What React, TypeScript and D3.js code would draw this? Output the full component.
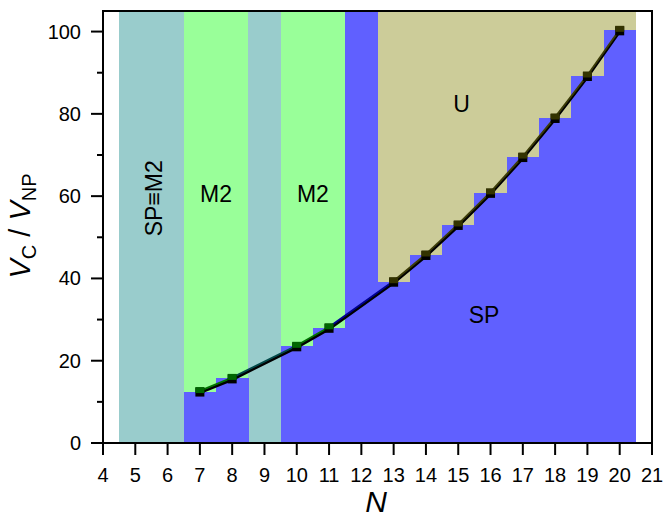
import React from "react";
import * as d3 from "d3";

// Critical voltage ratio V_C / V_NP versus cluster size N
const nValues = [7, 8, 10, 11, 13, 14, 15, 16, 17, 18, 19, 20];
const vcValues = [12.5, 15.7, 23.5, 28.0, 39.2, 45.7, 53.0, 60.8, 69.5, 79.0, 89.2, 100.3];

// Phase bands along N (background colour above the SP steps)
const bandStart = [4.5, 6.5, 8.5, 9.5, 11.5, 12.5];
const bandEnd = [6.5, 8.5, 9.5, 11.5, 12.5, 20.5];
const bandPhase = ["SPM2", "M2", "SPM2", "M2", "SP", "U"];

const xTicks = d3.range(4, 22);
const yMajorTicks = [0, 20, 40, 60, 80, 100];
const yMinorTicks = [10, 30, 50, 70, 90];

const phaseColor: Record<string, string> = {
  SPM2: "#99cccc",
  M2: "#99ff99",
  SP: "#6060ff",
  U: "#cccc99",
};
const lineColor: Record<string, string> = {
  M2: "#007000",
  SPM2: "#004848",
  SP: "#000090",
  U: "#3c3c08",
};

const W = 663;
const H = 517;
const m = { left: 103, right: 652, top: 11, bottom: 443 };

export default function App() {
  const x = d3.scaleLinear().domain([4, 21]).range([m.left, m.right]);
  const y = d3.scaleLinear().domain([0, 105]).range([m.bottom, m.top]);

  const phaseAt = (n: number) => {
    const i = bandStart.findIndex((s, k) => n >= s && n < bandEnd[k]);
    return i >= 0 ? bandPhase[i] : "SP";
  };

  const pts = nValues.map((n, i) => ({ n, v: vcValues[i] }));
  const line = d3
    .line<{ n: number; v: number }>()
    .x((d) => x(d.n))
    .y((d) => y(d.v));

  const font = "'Liberation Sans', Arial, sans-serif";

  return (
    <svg
      width={W}
      height={H}
      style={{ position: "absolute", left: 0, top: 0, background: "#fff" }}
      fontFamily={font}
    >
      {/* phase background bands */}
      <g shapeRendering="crispEdges">
        {bandStart.map((s, i) => (
          <rect
            key={"b" + i}
            x={x(s)}
            y={m.top}
            width={x(bandEnd[i]) - x(s)}
            height={m.bottom - m.top}
            fill={phaseColor[bandPhase[i]]}
          />
        ))}
        {/* SP region below each critical point */}
        {pts.map((p, i) => (
          <rect
            key={"s" + i}
            x={x(p.n - 0.5)}
            y={y(p.v)}
            width={x(p.n + 0.5) - x(p.n - 0.5) + 0.5}
            height={m.bottom - y(p.v)}
            fill={phaseColor.SP}
          />
        ))}
      </g>

      {/* connecting line: dark underlay plus coloured segments */}
      <path
        d={line(pts) || ""}
        transform="translate(0,1.2)"
        fill="none"
        stroke="#000"
        strokeWidth={2.8}
      />
      {pts.slice(0, -1).map((p, i) => {
        const q = pts[i + 1];
        const ph = phaseAt((p.n + q.n) / 2);
        return (
          <path
            key={"l" + i}
            d={line([p, q]) || ""}
            transform="translate(0,-0.8)"
            fill="none"
            stroke={lineColor[ph]}
            strokeWidth={1.9}
          />
        );
      })}

      {/* markers */}
      {pts.map((p, i) => {
        const cx = x(p.n);
        const cy = y(p.v);
        const c = phaseAt(p.n) === "U" ? "#333300" : "#006600";
        return (
          <g key={"m" + i}>
            <rect x={cx - 4.5} y={cy - 4} width={9} height={9} fill="#000" />
            <rect x={cx - 4.5} y={cy - 4.5} width={9} height={6} fill={c} />
          </g>
        );
      })}

      {/* region labels */}
      <g fontSize={23} fill="#000" textAnchor="middle" dominantBaseline="central">
        <text transform={`translate(${x(5.58)},${y(59.5)}) rotate(-90)`}>SP≡M2</text>
        <text x={x(7.5)} y={y(60.5)}>M2</text>
        <text x={x(10.5)} y={y(60.5)}>M2</text>
        <text x={x(15.1)} y={y(82.3)}>U</text>
        <text x={x(15.8)} y={y(31)}>SP</text>
      </g>

      {/* frame */}
      <rect
        x={m.left}
        y={m.top}
        width={m.right - m.left}
        height={m.bottom - m.top}
        fill="none"
        stroke="#000"
        strokeWidth={2}
      />

      {/* x axis ticks */}
      {xTicks.map((t) => (
        <g key={"xt" + t}>
          <line x1={x(t)} x2={x(t)} y1={m.bottom} y2={m.bottom + 12} stroke="#000" strokeWidth={2} />
          <text x={x(t)} y={482} fontSize={20} textAnchor="middle">
            {t}
          </text>
        </g>
      ))}
      {/* y axis ticks */}
      {yMajorTicks.map((t) => (
        <g key={"yt" + t}>
          <line x1={m.left - 12} x2={m.left} y1={y(t)} y2={y(t)} stroke="#000" strokeWidth={2} />
          <text x={81} y={y(t)} fontSize={20} textAnchor="end" dominantBaseline="central">
            {t}
          </text>
        </g>
      ))}
      {yMinorTicks.map((t) => (
        <line key={"ym" + t} x1={m.left - 6} x2={m.left} y1={y(t)} y2={y(t)} stroke="#000" strokeWidth={2} />
      ))}

      {/* axis titles */}
      <text x={376} y={512} fontSize={30} fontStyle="italic" textAnchor="middle">
        N
      </text>
      <text transform={`translate(30,${226}) rotate(-90)`} fontSize={29} textAnchor="middle">
        <tspan fontStyle="italic">V</tspan>
        <tspan fontSize={20} dy={6}>C</tspan>
        <tspan dy={-6}> / </tspan>
        <tspan fontStyle="italic">V</tspan>
        <tspan fontSize={20} dy={6}>NP</tspan>
      </text>
    </svg>
  );
}
